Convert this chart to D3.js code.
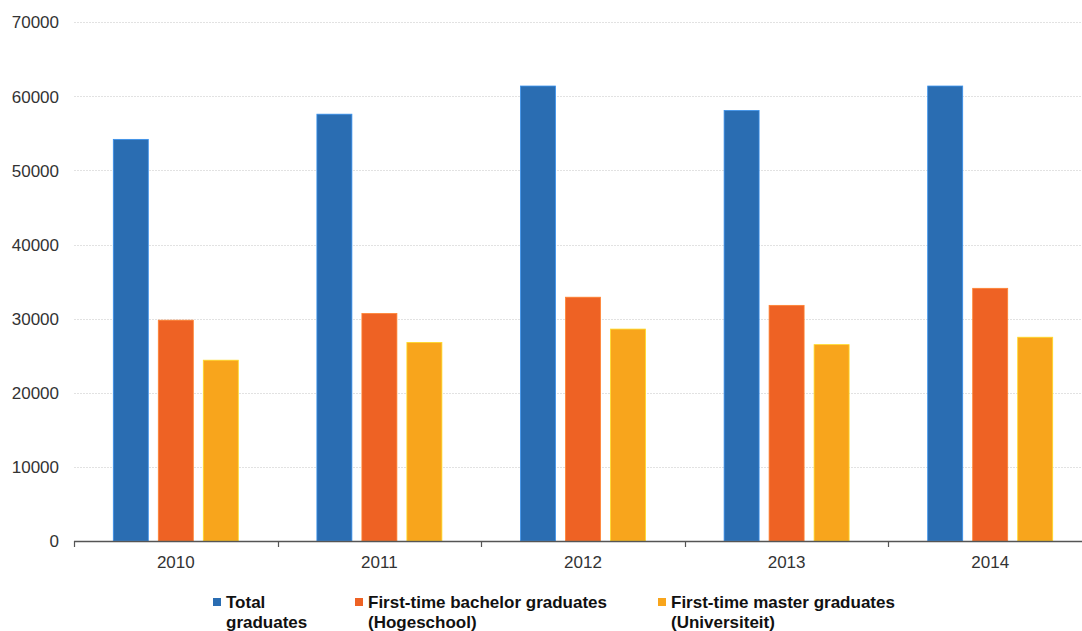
<!DOCTYPE html>
<html>
<head>
<meta charset="utf-8">
<script src="https://cdn.jsdelivr.net/npm/d3@7"></script>
<style>
  html, body { margin: 0; padding: 0; background: #fff; }
  svg { display: block; font-family: "Liberation Sans", Arial, sans-serif; }
</style>
</head>
<body>
<svg id="chart" width="1082" height="631"></svg>
<script>
const years = ["2010", "2011", "2012", "2013", "2014"];
const seriesNames = ["Total graduates", "First-time bachelor graduates (Hogeschool)", "First-time master graduates (Universiteit)"];
const legendLines = [["Total", "graduates"], ["First-time bachelor graduates", "(Hogeschool)"], ["First-time master graduates", "(Universiteit)"]];
const totalGraduates = [54200, 57600, 61400, 58100, 61400];
const bachelorGraduates = [29800, 30700, 32900, 31800, 34100];
const masterGraduates = [24400, 26800, 28600, 26500, 27500];
const yTicks = [0, 10000, 20000, 30000, 40000, 50000, 60000, 70000];
const colors = ["#2a6db2", "#ee6224", "#f8a51c"];

const seriesValues = [totalGraduates, bachelorGraduates, masterGraduates];

const svg = d3.select("#chart");
const x = d3.scaleBand().domain(years).range([74, 1092]).paddingInner(0).paddingOuter(0);
const y = d3.scaleLinear().domain([0, 70000]).range([541, 22.3]);
const bw = x.bandwidth();
const xs = d3.scaleBand().domain(seriesNames).range([bw / 2 - 62.5, bw / 2 + 62.5]).paddingInner(10 / 45).paddingOuter(0);

// gridlines
svg.append("g").selectAll("line").data(yTicks.filter(d => d > 0)).join("line")
  .attr("x1", 74).attr("x2", 1082)
  .attr("y1", d => Math.round(y(d)) + 0.5).attr("y2", d => Math.round(y(d)) + 0.5)
  .attr("stroke", "#e2e2e2").attr("stroke-width", 1.2).attr("stroke-dasharray", "2,1");

// y labels
svg.append("g").selectAll("text").data(yTicks).join("text")
  .attr("x", 59).attr("y", d => y(d)).attr("dy", "0.36em")
  .attr("text-anchor", "end").attr("font-size", 17).attr("fill", "#333")
  .text(d => d);

// bars
const groups = svg.append("g").selectAll("g").data(years).join("g")
  .attr("transform", d => `translate(${x(d)},0)`);
groups.selectAll("rect").data((d, i) => seriesNames.map((s, j) => ({ s, j, v: seriesValues[j][i] }))).join("rect")
  .attr("x", d => xs(d.s)).attr("width", xs.bandwidth())
  .attr("y", d => y(d.v)).attr("height", d => y(0) - y(d.v))
  .attr("fill", d => colors[d.j])
  .attr("stroke", d => d3.color(colors[d.j]).brighter(0.8))
  .attr("stroke-width", 0.8);

// x axis
const xAxis = svg.append("g").attr("transform", "translate(0,541)");
xAxis.append("line").attr("x1", 74).attr("x2", 1092).attr("y1", 0.5).attr("y2", 0.5)
  .attr("stroke", "#555").attr("stroke-width", 1.5);
const tickPos = years.map(d => x(d)).concat([x(years[years.length - 1]) + bw]);
xAxis.selectAll("line.tick").data(tickPos).join("line").attr("class", "tick")
  .attr("x1", d => Math.round(d) + 0.5).attr("x2", d => Math.round(d) + 0.5)
  .attr("y1", 0).attr("y2", 6).attr("stroke", "#555").attr("stroke-width", 1.2);
xAxis.selectAll("text").data(years).join("text")
  .attr("x", d => x(d) + bw / 2).attr("y", 27)
  .attr("text-anchor", "middle").attr("font-size", 17).attr("fill", "#333")
  .text(d => d);

// legend
const legendX = [213, 355, 658];
const legend = svg.append("g").selectAll("g").data(seriesNames).join("g")
  .attr("transform", (d, i) => `translate(${legendX[i]},0)`);
legend.append("rect").attr("x", 0).attr("y", 598).attr("width", 8).attr("height", 8)
  .attr("fill", (d, i) => colors[i]);
legend.each(function (d, i) {
  const t = d3.select(this).append("text").attr("font-size", 17).attr("font-weight", "bold").attr("fill", "#111");
  legendLines[i].forEach((line, k) => {
    t.append("tspan").attr("x", 13).attr("y", 608 + k * 20).text(line);
  });
});
</script>
</body>
</html>
